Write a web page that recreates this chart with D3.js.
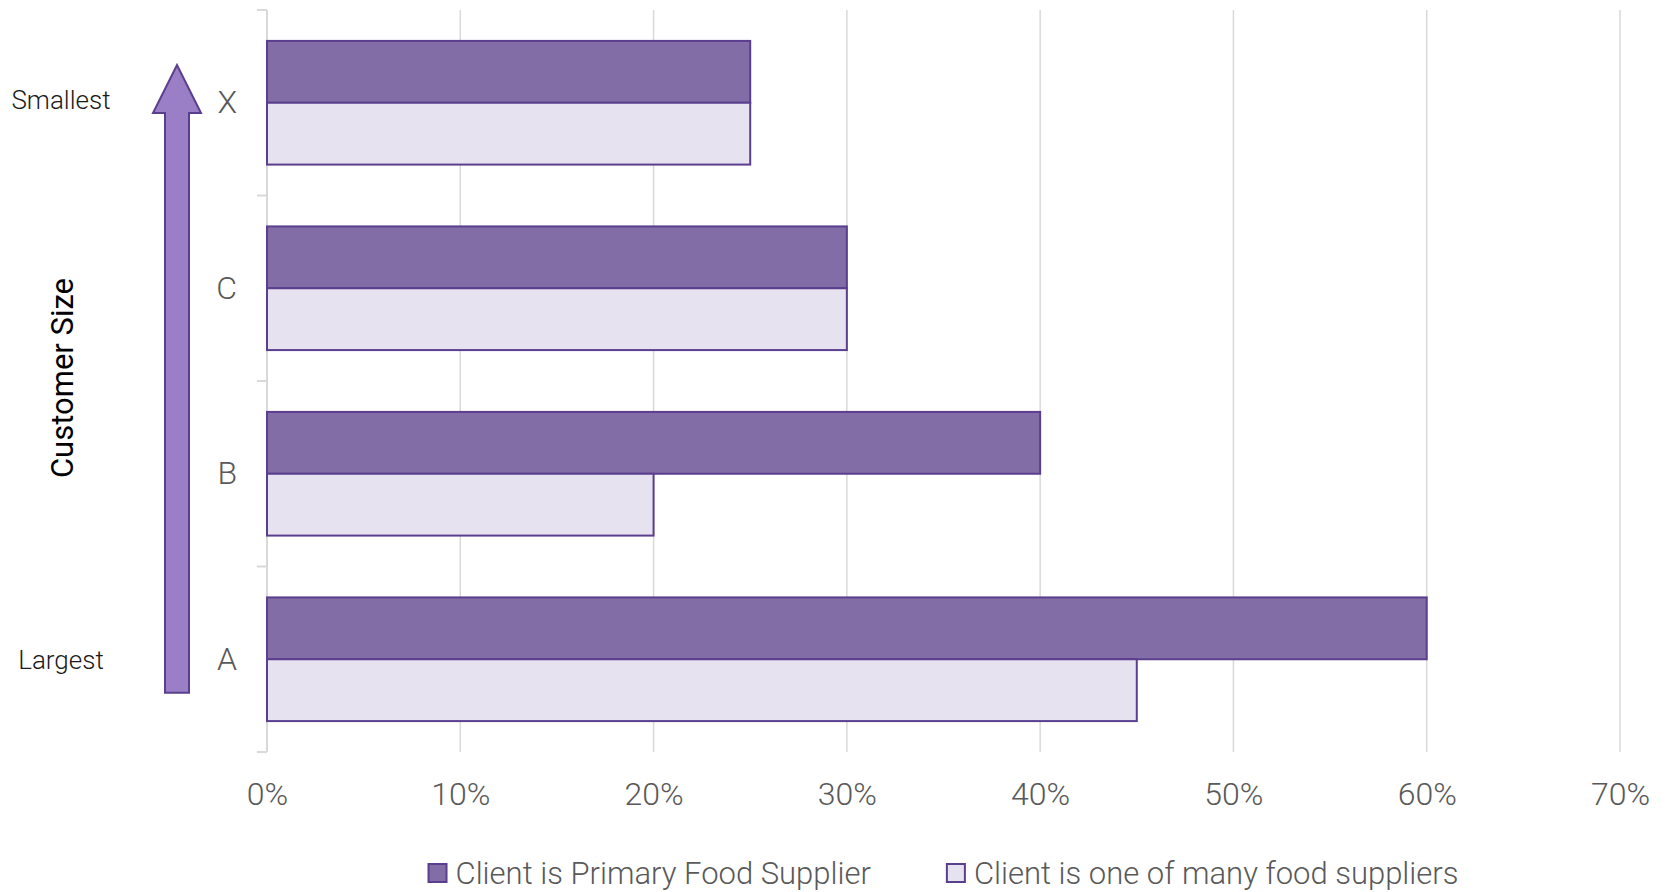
<!DOCTYPE html>
<html>
<head>
<meta charset="utf-8">
<script src="https://cdn.jsdelivr.net/npm/d3@7"></script>
<style>
  body { margin: 0; background: #fff; }
  text { font-family: Roboto, "Liberation Sans", sans-serif; }
</style>
</head>
<body>
<svg id="canvas"></svg>
<script>
// data, top to bottom as drawn
let categories = ["X", "C", "B", "A"];
let seriesNames = ["Client is Primary Food Supplier", "Client is one of many food suppliers"];
let primaryValues = [0.25, 0.30, 0.40, 0.60];
let manyValues = [0.25, 0.30, 0.20, 0.45];
let xTicks = [0, 0.1, 0.2, 0.3, 0.4, 0.5, 0.6, 0.7];

let width = 1673;
let height = 892;
let plotLeft = 267, plotRight = 1620, plotTop = 10, plotBottom = 752;

let colors = ["#826da6", "#e6e2ef"];
let strokeColor = "#5b3f8f";
let gridColor = "#d9d9d9";
let labelColor = "#595959";

let canvas = d3.select("#canvas")
canvas.attr("width", width)
canvas.attr("height", height)

let rows = categories.map((c, i) => {
    return { cat: c, values: [primaryValues[i], manyValues[i]] }
})

let xScale = d3.scaleLinear()
               .domain([0, 0.7])
               .range([plotLeft, plotRight])

let yScale = d3.scaleBand()
               .domain(categories)
               .range([plotTop, plotBottom])
               .padding(0)

let ySub = d3.scaleBand()
             .domain([0, 1])
             .range([0, yScale.bandwidth()])
             .paddingInner(0)
             .paddingOuter(0.5)

// gridlines
canvas.append("g")
      .selectAll("line")
      .data(xTicks.slice(1))
      .enter()
      .append("line")
      .attr("x1", d => xScale(d))
      .attr("x2", d => xScale(d))
      .attr("y1", plotTop)
      .attr("y2", plotBottom)
      .attr("stroke", gridColor)
      .attr("stroke-width", 1.5)

// category axis line + boundary ticks
let bounds = categories.map(c => yScale(c)).concat([plotBottom])
canvas.append("line")
      .attr("x1", plotLeft).attr("x2", plotLeft)
      .attr("y1", plotTop).attr("y2", plotBottom)
      .attr("stroke", gridColor)
      .attr("stroke-width", 2)
canvas.append("g")
      .selectAll("line")
      .data(bounds)
      .enter()
      .append("line")
      .attr("x1", plotLeft - 10).attr("x2", plotLeft)
      .attr("y1", d => d).attr("y2", d => d)
      .attr("stroke", gridColor)
      .attr("stroke-width", 2)

// bars
let groups = canvas.append("g")
      .selectAll("g")
      .data(rows)
      .enter()
      .append("g")
      .attr("transform", d => "translate(0," + yScale(d.cat) + ")")

groups.selectAll("rect")
      .data(d => d.values.map((v, i) => ({ v: v, i: i })))
      .enter()
      .append("rect")
      .attr("x", xScale(0))
      .attr("y", d => ySub(d.i))
      .attr("width", d => xScale(d.v) - xScale(0))
      .attr("height", ySub.bandwidth())
      .attr("fill", d => colors[d.i])
      .attr("stroke", strokeColor)
      .attr("stroke-width", 2)

// axes
let yAxis = d3.axisLeft(yScale).tickSize(0).tickPadding(30)
let yg = canvas.append("g")
      .attr("transform", "translate(" + plotLeft + ",0)")
      .call(yAxis)
yg.select(".domain").remove()
yg.selectAll("text")
  .attr("font-size", 32)
  .attr("font-weight", 300)
  .attr("fill", labelColor)
  .attr("font-family", "Roboto, sans-serif")

let xAxis = d3.axisBottom(xScale)
              .tickValues(xTicks)
              .tickFormat(d3.format(".0%"))
              .tickSize(0)
              .tickPadding(0)
let xg = canvas.append("g")
      .attr("transform", "translate(0," + plotBottom + ")")
      .call(xAxis)
xg.select(".domain").remove()
xg.selectAll("text")
  .attr("dy", null)
  .attr("y", 53)
  .attr("font-size", 32)
  .attr("font-weight", 300)
  .attr("fill", labelColor)
  .attr("font-family", "Roboto, sans-serif")

// size arrow annotation
let ax = 177, shaftHalf = 12, headHalf = 24
let tipY = plotTop + 55, headY = plotTop + 103, baseY = yScale("A") + yScale.bandwidth() * 0.68
canvas.append("path")
      .attr("d", d3.line()([
          [ax - shaftHalf, baseY], [ax - shaftHalf, headY], [ax - headHalf, headY],
          [ax, tipY], [ax + headHalf, headY], [ax + shaftHalf, headY], [ax + shaftHalf, baseY]
      ]) + "Z")
      .attr("fill", "#9a7fc6")
      .attr("stroke", strokeColor)
      .attr("stroke-width", 2)

canvas.append("text")
      .attr("x", 61)
      .attr("y", yScale("X") + yScale.bandwidth() / 2 - 3)
      .attr("dy", "0.35em")
      .attr("text-anchor", "middle")
      .attr("font-size", 26)
      .attr("font-weight", 300)
      .attr("fill", "#1a1a1a")
      .text("Smallest")

canvas.append("text")
      .attr("x", 61)
      .attr("y", yScale("A") + yScale.bandwidth() / 2 + 1)
      .attr("dy", "0.35em")
      .attr("text-anchor", "middle")
      .attr("font-size", 26)
      .attr("font-weight", 300)
      .attr("fill", "#1a1a1a")
      .text("Largest")

canvas.append("text")
      .attr("transform", "translate(62," + 378 + ") rotate(-90)")
      .attr("dy", "0.35em")
      .attr("text-anchor", "middle")
      .attr("font-size", 31)
      .attr("fill", "#000")
      .text("Customer Size")

// legend
let legend = canvas.append("g").attr("transform", "translate(0,873)")
let items = legend.selectAll("g")
      .data(seriesNames)
      .enter()
      .append("g")
items.append("rect")
     .attr("width", 18).attr("height", 18)
     .attr("y", -9)
     .attr("fill", (d, i) => colors[i])
     .attr("stroke", strokeColor)
     .attr("stroke-width", 2)
items.append("text")
     .attr("x", 27)
     .attr("dy", "0.35em")
     .attr("font-size", 31)
     .attr("font-weight", 300)
     .attr("fill", labelColor)
     .text(d => d)

let gap = 76
let widths = []
items.each(function () { widths.push(this.getBBox().width) })
let total = d3.sum(widths) + gap * (widths.length - 1)
let start = (plotLeft + plotRight) / 2 - total / 2
let pos = start
items.attr("transform", (d, i) => {
    let t = "translate(" + pos + ",0)"
    pos += widths[i] + gap
    return t
})
</script>
</body>
</html>
